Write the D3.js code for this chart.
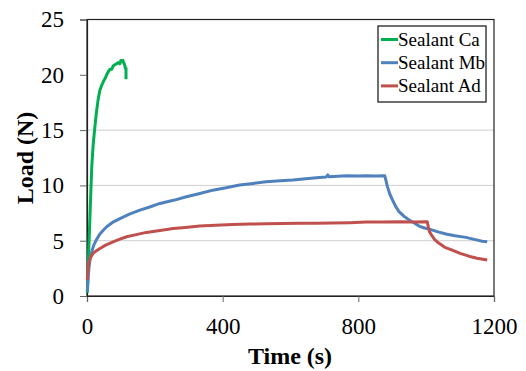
<!DOCTYPE html>
<html>
<head>
<meta charset="UTF-8">
<style>
body { margin: 0; background: white; }
</style>
</head>
<body>
<script src="https://d3js.org/d3.v7.min.js"></script>
<script>

// canvas
var svgWidth = 526,
    svgHeight = 371,
    margin = {top: 19.5, right: 32, bottom: 75, left: 87},
    chartWidth = svgWidth - margin.left - margin.right,
    chartHeight = svgHeight - margin.top - margin.bottom,
    serif = "'Liberation Serif', 'Times New Roman', serif";

// data: [time (s), load (N)]
var seriesNames = ["Sealant Ca", "Sealant Mb", "Sealant Ad"];
var seriesColors = ["#00b050", "#4f81bd", "#c0504d"];

var sealantCa = [
  [1, 0.3], [3, 2.0], [5, 4.0], [7, 5.7], [10, 8.3], [14, 11.7], [18, 13.6],
  [22, 14.9], [26, 16.1], [29, 16.9], [33, 17.8], [38, 18.6], [44, 19.1],
  [50, 19.5], [54, 19.7], [58, 20.0], [63, 20.3], [68, 20.5], [73, 20.5],
  [77, 20.8], [82, 20.9], [87, 21.0], [92, 21.1], [97, 21.0], [100, 21.3],
  [103, 21.2], [106, 21.3], [108, 21.1], [111, 20.9], [113, 20.6],
  [115, 20.6], [115, 19.6]
];

var sealantMb = [
  [1, 0.4], [3, 1.5], [6, 2.6], [9, 3.3], [14, 4.0], [20, 4.6], [28, 5.1],
  [38, 5.6], [48, 5.95], [58, 6.26], [75, 6.65], [97, 7.0], [125, 7.4],
  [156, 7.77], [185, 8.05], [215, 8.37], [255, 8.65], [293, 8.97],
  [330, 9.25], [371, 9.57], [410, 9.78], [450, 10.03], [490, 10.18],
  [528, 10.33], [570, 10.42], [607, 10.48], [645, 10.6], [685, 10.72],
  [705, 10.75], [710, 10.95], [714, 10.78], [740, 10.82], [764, 10.87],
  [800, 10.85], [823, 10.87], [850, 10.84], [878, 10.87], [881, 10.5],
  [886, 9.87], [893, 9.2], [901, 8.67], [910, 8.1], [920, 7.62],
  [935, 7.2], [950, 6.87], [965, 6.6], [979, 6.32], [995, 6.15],
  [1009, 6.05], [1035, 5.8], [1058, 5.6], [1085, 5.45], [1117, 5.3],
  [1145, 5.1], [1165, 4.95], [1180, 4.9]
];

var sealantAd = [
  [1, 1.45], [3, 2.5], [6, 3.1], [10, 3.45], [18, 3.86], [28, 4.1],
  [38, 4.3], [55, 4.6], [77, 4.9], [95, 5.12], [117, 5.36], [145, 5.55],
  [175, 5.75], [210, 5.9], [254, 6.1], [290, 6.2], [332, 6.32],
  [380, 6.4], [429, 6.47], [480, 6.5], [528, 6.54], [575, 6.55],
  [626, 6.57], [675, 6.58], [724, 6.6], [775, 6.63], [823, 6.69],
  [870, 6.7], [921, 6.72], [960, 6.7], [1003, 6.72], [1006, 6.3],
  [1010, 5.8], [1014, 5.6], [1025, 5.1], [1038, 4.76], [1055, 4.4],
  [1077, 4.15], [1100, 3.85], [1126, 3.6], [1150, 3.42], [1180, 3.25]
];

var xTicks = [0, 400, 800, 1200];
var yTicks = [0, 5, 10, 15, 20, 25];
var yGrid = [5, 10, 15];

var allSeries = [sealantCa, sealantMb, sealantAd];

var svg = d3.select("body").append("svg")
    .attr("width", svgWidth)
    .attr("height", svgHeight);

var xScale = d3.scaleLinear().domain([0, 1200]).range([0, chartWidth]);
var yScale = d3.scaleLinear().domain([0, 25]).range([chartHeight, 0]);

var g = svg.append("g")
    .attr("transform", "translate(" + margin.left + "," + margin.top + ")");

// gridlines
g.selectAll(".grid").data(yGrid).enter().append("line")
    .attr("class", "grid")
    .attr("x1", 0).attr("x2", chartWidth)
    .attr("y1", d => yScale(d)).attr("y2", d => yScale(d))
    .attr("stroke", "#cfcfcf")
    .attr("stroke-width", 1);

// frame
g.append("rect")
    .attr("width", chartWidth).attr("height", chartHeight)
    .attr("fill", "none")
    .attr("stroke", "#222")
    .attr("stroke-width", 1.2);

// axes
var xAxis = d3.axisBottom(xScale).tickValues(xTicks).tickFormat(d3.format("d"))
    .tickSize(6).tickPadding(16);
var yAxis = d3.axisLeft(yScale).tickValues(yTicks).tickFormat(d3.format("d"))
    .tickSize(7).tickPadding(16);

g.append("g")
    .attr("transform", "translate(0," + chartHeight + ")")
    .style("font-family", serif)
    .style("font-size", "23px")
    .call(xAxis)
    .call(a => a.select(".domain").attr("stroke", "#222").attr("stroke-width", 1.2))
    .call(a => a.selectAll(".tick line").attr("stroke", "#666"));

g.append("g")
    .style("font-family", serif)
    .style("font-size", "23px")
    .call(yAxis)
    .call(a => a.select(".domain").attr("stroke", "#222").attr("stroke-width", 1.2))
    .call(a => a.selectAll(".tick line").attr("stroke", "#666"));

// lines
var line = d3.line()
    .x(d => xScale(d[0]))
    .y(d => yScale(d[1]));

g.selectAll(".series").data(allSeries).enter().append("path")
    .attr("class", "series")
    .attr("d", line)
    .attr("fill", "none")
    .attr("stroke", (d, i) => seriesColors[i])
    .attr("stroke-width", 3)
    .attr("stroke-linejoin", "round");

// axis titles
svg.append("text")
    .attr("x", 290)
    .attr("y", 364)
    .attr("text-anchor", "middle")
    .style("font-family", serif)
    .style("font-size", "24px")
    .style("font-weight", "bold")
    .text("Time (s)");

svg.append("text")
    .attr("transform", "translate(33," + 158 + ") rotate(-90)")
    .attr("text-anchor", "middle")
    .style("font-family", serif)
    .style("font-size", "24px")
    .style("font-weight", "bold")
    .text("Load (N)");

// legend
var legend = svg.append("g").attr("transform", "translate(378,26)");
legend.append("rect")
    .attr("width", 108).attr("height", 76)
    .attr("fill", "white")
    .attr("stroke", "#222")
    .attr("stroke-width", 1.3);

var items = legend.selectAll(".item").data(seriesNames).enter().append("g")
    .attr("class", "item")
    .attr("transform", (d, i) => "translate(0," + (13.5 + i * 23.2) + ")");

items.append("line")
    .attr("x1", 3).attr("x2", 20)
    .attr("stroke", (d, i) => seriesColors[i])
    .attr("stroke-width", 3);

items.append("text")
    .attr("x", 20)
    .attr("y", 6)
    .style("font-family", serif)
    .style("font-size", "19px")
    .text(d => d);

</script>
</body>
</html>
